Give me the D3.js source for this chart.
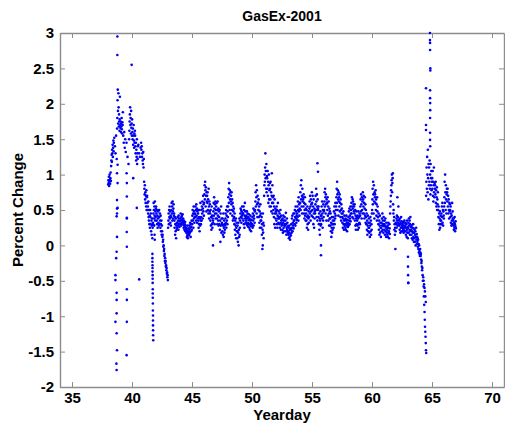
<!DOCTYPE html>
<html>
<head>
<meta charset="utf-8">
<script src="https://cdn.jsdelivr.net/npm/d3@7"></script>
<style>
  html, body { margin: 0; padding: 0; background: #ffffff; }
  svg { display: block; }
  text { font-family: "Liberation Sans", Arial, Helvetica, sans-serif; font-weight: bold; fill: #000; }
</style>
</head>
<body>
<svg id="chart" width="505" height="429"></svg>
<script>
// ---------------- DATA ----------------
const chartTitle = "GasEx-2001";
const xLabel = "Yearday";
const yLabel = "Percent Change";
const xTicks = [35, 40, 45, 50, 55, 60, 65, 70];
const yTicks = [-2, -1.5, -1, -0.5, 0, 0.5, 1, 1.5, 2, 2.5, 3];

// Regularly sampled record: each inner array holds the readings of one 0.25-day block, in time order.
const recordStartDay = 38.0;
const blockDays = 0.25;

const pct38 = [
  [.86,.92,.88,.97,.84,.9,1.0,.93,.87,.95,1.03,.91],
  [1.12,1.2,1.28,1.18,1.35,1.3,1.42,1.25,1.38,1.48,1.33,1.45],
  [1.52,1.4,1.3,1.55,1.22],
  [1.65,1.8,2.05,2.2,1.9,1.72,2.15,1.95,1.68,1.85,1.75,1.62,1.78,2.1],
  [1.7,1.66,1.75,1.6,1.72,1.68,1.8,1.64,1.58,1.74,1.7,1.88],
  [1.55,1.45,1.6,1.38,1.5,1.32],
  [1.45,1.25,1.15],
  [1.5,1.62,1.75,1.85,1.95,1.7,1.8,1.58,1.9,1.66,1.72,1.55],
  [1.78,1.6,1.5,1.65,1.42,1.55,1.7,1.48,1.38,1.58,1.45,1.62],
  [1.55,1.4,1.3,1.45,1.2,1.35,1.25,1.5,1.15,1.3,1.22,1.4],
  [1.42,1.3,1.25,1.38],
  [1.45,1.35,1.4,1.25,1.3,1.2,1.15,1.32,1.1,1.22],
  [.9,.8,.72,.85,.65,.75,.6,.7,.55,.78,.5,.68],
  [.7,.6,.5,.55,.45,.62,.4,.35,.5,.3,.42,.25],
  [.5,.4,.3,.45,.2,.35,.15,.28,.38,.1,.25,.32],
  [.3,.45,.6,.5,.38,.55,.42,.62,.35,.48,.4,.52],
  [.55,.45,.35,.5,.3,.42,.25,.38,.48,.32,.4,.28],
  [.5,.4,.3,.45,.35,.25,.42,.3,.2,.35,.15,.28],
  [.2,.12,.15,.05,.08,-.02,0,-.08,-.05,-.15,-.12,-.22],
  [-.18,-.25,-.22,-.3,-.28,-.35,-.32,-.4,-.38,-.45,-.42,-.49]
];
const pct43 = [
  [.25,.35,.45,.3,.5,.4,.55,.38,.48,.32,.42,.28],
  [.4,.5,.6,.45,.55,.35,.62,.48,.38,.52,.58,.42],
  [.45,.35,.25,.4,.15,.3,.2,.38,.1,.28,.22,.32],
  [.25,.32,.4,.28,.35,.22,.42,.3,.38,.26,.34,.3],
  [.3,.38,.45,.35,.28,.4,.32,.42,.36,.3,.44,.34],
  [.38,.32,.25,.35,.28,.22,.3,.26,.33,.2,.28,.24],
  [.25,.18,.22,.12,.2,.15,.28,.1,.18,.24,.14,.2],
  [.15,.22,.28,.18,.32,.25,.12,.3,.2,.26,.35,.22],
  [.3,.42,.5,.35,.45,.25,.55,.38,.48,.32,.4,.44],
  [.45,.55,.4,.5,.35,.58,.42,.52,.32,.48,.38,.5],
  [.45,.35,.25,.4,.3,.5,.2,.38,.28,.6,.35,.3],
  [.4,.5,.35,.55,.45,.62,.38,.52,.7,.48,.58,.42],
  [.6,.72,.85,.65,.9,.78,.55,.82,.7,.48,.75,.62],
  [.7,.6,.75,.5,.65,.45,.8,.55,.38,.62,.48,.58],
  [.45,.35,.5,.28,.4,.22,.55,.3,.42,.25,.38,.32],
  [.35,.48,.6,.42,.68,.52,.3,.58,.45,.62,.38,.5],
  [.55,.45,.6,.38,.5,.3,.62,.42,.35,.52,.28,.48],
  [.4,.3,.5,.22,.35,.05,.45,.28,.55,.18,.38,.32],
  [.3,.2,.38,.15,.28,.45,.12,.25,.35,.18,.3,.22],
  [.28,.38,.45,.32,.5,.25,.42,.35,.55,.3,.48,.4]
];
const pct48 = [
  [.55,.68,.8,.6,.88,.72,.5,.78,.65,.45,.75,.62],
  [.7,.58,.75,.5,.65,.42,.6,.35,.55,.48,.38,.52],
  [.4,.3,.45,.22,.35,.15,.28,.38,.1,.25,.32,.2],
  [.2,.1,.28,.05,.18,.32,0,.22,.12,.38,.15,.25],
  [.35,.45,.52,.4,.5,.32,.48,.42,.55,.38,.46,.44],
  [.45,.35,.55,.3,.5,.25,.42,.6,.38,.48,.32,.4],
  [.35,.42,.3,.48,.38,.28,.45,.32,.4,.26,.36,.44],
  [.3,.25,.38,.22,.35,.42,.28,.32,.2,.36,.3,.27],
  [.3,.4,.25,.45,.35,.52,.28,.42,.38,.5,.32,.48],
  [.5,.62,.75,.55,.85,.68,.45,.78,.58,.4,.7,.6],
  [.6,.5,.65,.4,.55,.32,.48,.25,.42,.58,.35,.45],
  [.35,.25,.4,.15,.3,-.05,.22,.45,.18,.32,.1,.28],
  [.7,.85,1.0,.9,1.1,1.3,.95,1.05,.8,1.15,.75,.98],
  [.95,.8,1.05,.7,.9,.6,.85,1.0,.65,.78,.55,.88],
  [.8,.65,.9,.55,.75,.48,.7,1.02,.6,.85,.45,.68],
  [.6,.5,.7,.4,.55,.3,.65,.45,.25,.52,.38,.48],
  [.45,.35,.55,.3,.5,.25,.42,.6,.38,.32,.48,.4],
  [.38,.3,.45,.25,.4,.5,.32,.22,.42,.35,.28,.36],
  [.3,.22,.38,.18,.32,.42,.25,.35,.2,.28,.4,.3],
  [.28,.35,.2,.46,.3,.15,.25,.38,.22,.32,.18,.27]
];
const pct53 = [
  [.2,.15,.25,.1,.18,.28,.12,.22,.08,.16,.24,.14],
  [.22,.3,.18,.38,.25,.42,.2,.32,.28,.45,.24,.35],
  [.35,.45,.3,.5,.4,.28,.55,.38,.48,.32,.42,.36],
  [.45,.55,.4,.62,.5,.35,.68,.48,.58,.42,.52,.6],
  [.6,.75,.5,.85,.65,.92,.55,.7,.45,.8,.62,.68],
  [.65,.55,.72,.45,.6,.38,.5,.68,.42,.58,.35,.52],
  [.45,.35,.5,.25,.4,.55,.3,.42,.22,.38,.48,.32],
  [.4,.52,.62,.45,.7,.55,.35,.65,.48,.58,.42,.75],
  [.6,.5,.7,.4,.55,.3,.65,.45,.25,.52,.38,.48],
  [.45,.58,.7,.5,.8,.62,.4,.72,.55,.35,.65,.52],
  [.5,.4,.55,.3,.45,.22,.38,.15,.35,.48,.28,.42],
  [.3,.42,.55,.38,.62,.45,.25,.5,.35,.58,.4,.48],
  [.5,.62,.75,.55,.8,.68,.45,.72,.58,.35,.65,.6],
  [.6,.5,.68,.42,.55,.35,.62,.45,.28,.52,.38,.48],
  [.38,.28,.45,.2,.32,.12,.25,.4,.18,.3,.22,.35],
  [.3,.4,.25,.48,.35,.55,.3,.45,.38,.6,.42,.5],
  [.55,.68,.8,.6,.9,.72,.5,.78,.65,.42,.75,.62],
  [.68,.55,.72,.48,.6,.4,.65,.5,.35,.58,.45,.52],
  [.4,.32,.45,.25,.38,.48,.3,.22,.35,.42,.28,.36],
  [.3,.25,.38,.22,.35,.42,.28,.32,.2,.36,.3,.26]
];
const pct58 = [
  [.32,.4,.28,.48,.35,.52,.3,.42,.38,.55,.34,.45],
  [.5,.6,.45,.68,.55,.4,.65,.52,.62,.38,.58,.48],
  [.55,.45,.58,.35,.5,.28,.42,.22,.38,.48,.3,.4],
  [.35,.28,.42,.22,.38,.48,.3,.25,.4,.32,.45,.3],
  [.42,.55,.65,.48,.72,.58,.38,.68,.5,.62,.45,.75],
  [.65,.55,.7,.45,.6,.38,.52,.68,.42,.58,.32,.5],
  [.4,.3,.45,.22,.35,.15,.28,.42,.2,.32,.25,.38],
  [.25,.18,.32,.12,.28,.4,.2,.35,.15,.3,.22,.45],
  [.5,.65,.8,.58,.9,.72,.45,.85,.62,.38,.75,.68],
  [.72,.6,.78,.5,.65,.42,.58,.35,.68,.48,.55,.4],
  [.4,.3,.45,.22,.35,.15,.28,.42,.18,.32,.25,.12],
  [.25,.32,.2,.38,.28,.45,.22,.35,.3,.18,.4,.27],
  [.3,.22,.35,.15,.28,.38,.2,.25,.12,.32,.18,.26],
  [.22,.15,.28,.12,.25,.32,.18,.2,.1,.3,.24,.16],
  [.45,.55,.62,.7,.78,.85,.92,1.0,.75,.88,.95,1.02],
  [.58,.45,.5,.35,.4,.22,.3,.15,.25,-.05,.2,.32],
  [.3,.38,.25,.42,.35,.68,.28,.4,.32,.55,.36,.3],
  [.28,.35,.22,.38,.3,.18,.32,.25,.4,.2,.34,.27],
  [.25,.3,.2,.33,.22,.28,.18,.32,.24,.35,.26,.2],
  [.28,.2,.32,.15,.25,.3,.12,.22,.35,.18,.26,.1]
];
const pct63 = [
  [.25,.32,.18,.38,.28,.22,.35,.15,.3,.4,.2,.26],
  [.22,.15,.28,.1,.2,.25,.08,.18,.3,.12,.24,.05],
  [.18,.1,.22,.05,.15,.2,0,.12,.25,.08,.16,.02],
  [.12,.05,.1,-.02,.08,-.05,.02,-.1,0,-.08,-.12,-.15],
  [-.05,-.1,-.15,-.12,-.2,-.25,-.22,-.3,-.35,-.32,-.42,-.5],
  [-.45,-.5,-.55,-.6,-.65,-.72,-.8],
  [.7,.9,1.1,.8,1.25,1.0,.75,1.35,.95,.65,1.15,.85],
  [1.1,.9,1.2,.8,1.0,.72,1.15,.85,.95,1.05,.78,.9],
  [.95,.8,1.05,.7,.9,.62,.85,1.1,.75,.68,.88,.8],
  [.85,.72,.9,.6,.78,.55,.68,.82,.5,.65,.58,.75],
  [.5,.4,.55,.3,.45,.22,.38,.48,.25,.35,.42,.3],
  [.35,.45,.3,.55,.4,.6,.32,.5,.28,.48,.42,.38],
  [.55,.68,.9,.6,1.0,.75,.5,.85,.65,.45,.72,.8],
  [.75,.62,.8,.55,.7,.45,.65,.5,.38,.6,.48,.58],
  [.5,.4,.55,.32,.45,.28,.42,.35,.6,.3,.48,.38],
  [.35,.28,.38,.22,.32,.25,.4,.3,.2,.27,.34,.24]
];

// Isolated readings (fast excursions), read individually.
const spikeDay = [
  38.78,38.78,38.8,38.75,38.8,38.8,38.75,38.75,38.72,38.75,38.72,38.68,38.62,38.62,38.72,38.72,38.72,38.62,38.72,38.75,38.7,38.72,38.75,
  39.55,39.57,39.57,39.57,39.56,39.57,39.57,39.57,39.57,39.55,39.57,
  39.97,40.1,40.4,40.6,
  41.7,41.7,41.7,41.71,41.71,41.71,41.72,41.72,41.72,41.73,41.73,41.73,41.74,41.74,41.75,41.75,41.75,41.76,41.76,41.77,
  41.85,41.88,41.9,
  46.75,50.9,55.45,55.5,55.75,55.75,
  63.0,63.0,63.01,63.02,63.03,
  64.3,64.32,64.35,64.38,64.4,64.42,64.44,64.46,64.48,64.5,64.52,
  64.83,64.83,64.84,64.84,64.86,64.86,64.5,64.84,64.84,64.85,64.85,64.84,64.5,64.5,64.84,64.84,64.85
];
const spikePct = [
  2.95,2.69,1.14,1.02,0.88,0.53,0.64,0.45,0.41,0.12,-0.09,-0.18,-0.42,-0.49,-0.67,-0.77,-0.96,-1.08,-1.24,-1.48,-1.67,-1.76,0.52,
  1.02,0.88,0.69,0.39,0.19,-0.02,-0.62,-0.77,-1.08,-1.55,0.38,
  2.55,0.95,0.53,-0.48,
  -0.12,-0.18,-0.23,-0.28,-0.32,-0.37,-0.42,-0.47,-0.53,-0.62,-0.68,-0.74,-0.82,-0.92,-0.99,-1.06,-1.13,-1.2,-1.27,-1.34,
  0.28,0.15,0.08,
  0.0,0.0,1.16,1.04,0.0,-0.14,
  -0.16,-0.3,-0.42,-0.53,-0.53,
  -0.58,-0.72,-0.84,-0.94,-1.05,-1.15,-1.22,-1.29,-1.38,-1.48,-1.52,
  3.0,2.9,2.86,2.76,2.5,2.47,2.22,2.19,2.08,2.01,1.91,1.8,1.7,1.63,1.59,1.49,1.4
];

// ---------------- CHART ----------------
const svg = d3.select("#chart");
const W = 505, H = 429;
const plot = { left: 60, right: 504, top: 33, bottom: 387 };

const x = d3.scaleLinear().domain([34, 71]).range([plot.left, plot.right]);
const y = d3.scaleLinear().domain([-2, 3]).range([plot.bottom, plot.top]);

svg.append("rect").attr("width", W).attr("height", H).attr("fill", "#ffffff");

// assemble points
const blocks = [].concat(pct38, pct43, pct48, pct53, pct58, pct63);
const points = [];
blocks.forEach((vals, b) => {
  const t0 = recordStartDay + b * blockDays;
  vals.forEach((v, i) => {
    points.push({ d: t0 + (i + 0.5) / vals.length * blockDays, p: v });
  });
});
spikeDay.forEach((d, i) => points.push({ d: d, p: spikePct[i] }));

// axes
const axisColor = "#8c8c8c";
const fmt = d => String(d);

function styleAxis(g, showLabels) {
  g.select(".domain").attr("stroke", axisColor).attr("stroke-width", 1.4);
  g.selectAll(".tick line").attr("stroke", axisColor).attr("stroke-width", 1);
  g.selectAll(".tick text")
    .attr("fill", "#000")
    .style("font-size", "15px")
    .style("font-weight", "bold")
    .style("font-family", '"Liberation Sans", Arial, Helvetica, sans-serif');
  if (!showLabels) g.selectAll(".tick text").remove();
}

svg.append("g")
  .attr("transform", `translate(0,${plot.bottom})`)
  .call(d3.axisBottom(x).tickValues(xTicks).tickFormat(fmt).tickSizeInner(-5).tickSizeOuter(0).tickPadding(5))
  .call(g => styleAxis(g, true));

svg.append("g")
  .attr("transform", `translate(0,${plot.top})`)
  .call(d3.axisTop(x).tickValues(xTicks).tickSizeInner(-5).tickSizeOuter(0))
  .call(g => styleAxis(g, false));

svg.append("g")
  .attr("transform", `translate(${plot.left},0)`)
  .call(d3.axisLeft(y).tickValues(yTicks).tickFormat(fmt).tickSizeInner(-5).tickSizeOuter(0).tickPadding(6))
  .call(g => styleAxis(g, true));

svg.append("g")
  .attr("transform", `translate(${plot.right},0)`)
  .call(d3.axisRight(y).tickValues(yTicks).tickSizeInner(-5).tickSizeOuter(0))
  .call(g => styleAxis(g, false));

// points
svg.append("g")
  .selectAll("circle")
  .data(points)
  .join("circle")
  .attr("cx", d => x(d.d))
  .attr("cy", d => y(d.p))
  .attr("r", 1.3)
  .attr("fill", "#0000f0");

// titles
svg.append("text")
  .attr("x", (plot.left + plot.right) / 2)
  .attr("y", 21)
  .attr("text-anchor", "middle")
  .style("font-size", "14px")
  .text(chartTitle);

svg.append("text")
  .attr("x", (plot.left + plot.right) / 2)
  .attr("y", 420)
  .attr("text-anchor", "middle")
  .style("font-size", "15px")
  .text(xLabel);

svg.append("text")
  .attr("transform", `translate(23,${(plot.top + plot.bottom) / 2}) rotate(-90)`)
  .attr("text-anchor", "middle")
  .style("font-size", "15px")
  .text(yLabel);
</script>
</body>
</html>
